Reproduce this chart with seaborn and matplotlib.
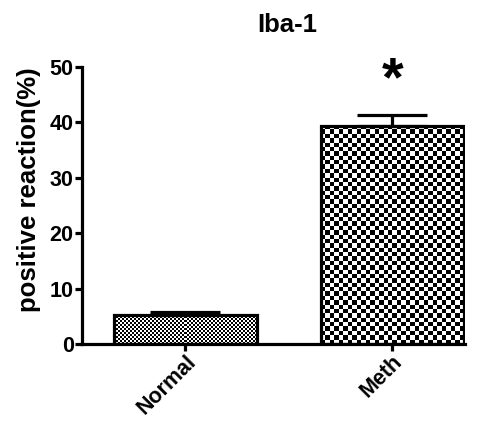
import numpy as np
import pandas as pd
import matplotlib
matplotlib.use("Agg")
import matplotlib.pyplot as plt
import seaborn as sns

groups = ["Normal", "Meth"]
means = [5.3, 39.4]
sems = [0.5, 1.9]
yticks = [0, 10, 20, 30, 40, 50]
title = "Iba-1"
ylabel = "positive reaction(%)"
sig_label = "*"
checker_px = [2.0, 4.4]  # pattern square size in pixels per bar

sns.set_style("ticks")
plt.rcParams["font.family"] = ["Liberation Sans", "DejaVu Sans"]
plt.rcParams["font.weight"] = "bold"
plt.rcParams["text.color"] = "black"
plt.rcParams["axes.labelcolor"] = "black"
plt.rcParams["xtick.color"] = "black"
plt.rcParams["ytick.color"] = "black"
plt.rcParams["axes.edgecolor"] = "black"

W, H = 486, 422
fig = plt.figure(figsize=(W / 100, H / 100), dpi=100)
ax = fig.add_axes([82 / W, 1 - 344 / H, (465 - 82) / W, (344 - 67) / H])

df = pd.DataFrame({"group": groups, "value": means})
sns.barplot(data=df, x="group", y="value", order=groups, errorbar=None,
            width=0.69, color="white", edgecolor="black", linewidth=2.3,
            ax=ax)

ax.set_xlim(-0.5, 1.352)
ax.set_ylim(0, 50)
ax.set_yticks(yticks)

xs = np.arange(len(groups))
ax.errorbar(xs, means, yerr=[np.zeros(len(sems)), sems], fmt="none",
            ecolor="black", elinewidth=2.3, capsize=25, capthick=2.3,
            zorder=4)

fig.canvas.draw()
for patch, sq in zip(ax.patches, checker_px):
    patch.set_facecolor("none")
    patch.set_zorder(3)
    bb = patch.get_window_extent()
    nx = max(1, int(round(bb.width / sq)))
    ny = max(1, int(round(bb.height / sq)))
    board = (np.add.outer(np.arange(ny), np.arange(nx)) % 2).astype(float)
    x0, y0 = patch.get_x(), patch.get_y()
    w, h = patch.get_width(), patch.get_height()
    im = ax.imshow(board, cmap="gray", vmin=0, vmax=1, interpolation="nearest",
                   extent=[x0, x0 + w, y0, y0 + h], aspect="auto", zorder=2,
                   origin="lower")
    im.set_clip_path(patch)

ax.set_xlim(-0.5, 1.352)
ax.set_ylim(0, 50)

for side in ["left", "bottom"]:
    ax.spines[side].set_linewidth(2.3)
sns.despine(ax=ax)
ax.tick_params(axis="y", length=5, width=2.3, labelsize=15.5, pad=1)
ax.tick_params(axis="x", length=5, width=2.3, labelsize=15.5, pad=0.5)
plt.setp(ax.get_xticklabels(), rotation=45, ha="right", rotation_mode="anchor",
         fontweight="bold")
plt.setp(ax.get_yticklabels(), fontweight="bold")
ax.set_xlabel("")
ax.set_ylabel(ylabel, fontsize=18.5, fontweight="bold")
ax.yaxis.set_label_coords(-0.107, 0.556)

fig.text(287 / W, 1 - 25 / H, title, ha="center", va="center",
         fontsize=18.5, fontweight="bold")
ax.text(1, 47.5, sig_label, ha="center", va="center", fontsize=40,
        fontweight="bold", clip_on=False)

fig.savefig("out.png", dpi=100)
